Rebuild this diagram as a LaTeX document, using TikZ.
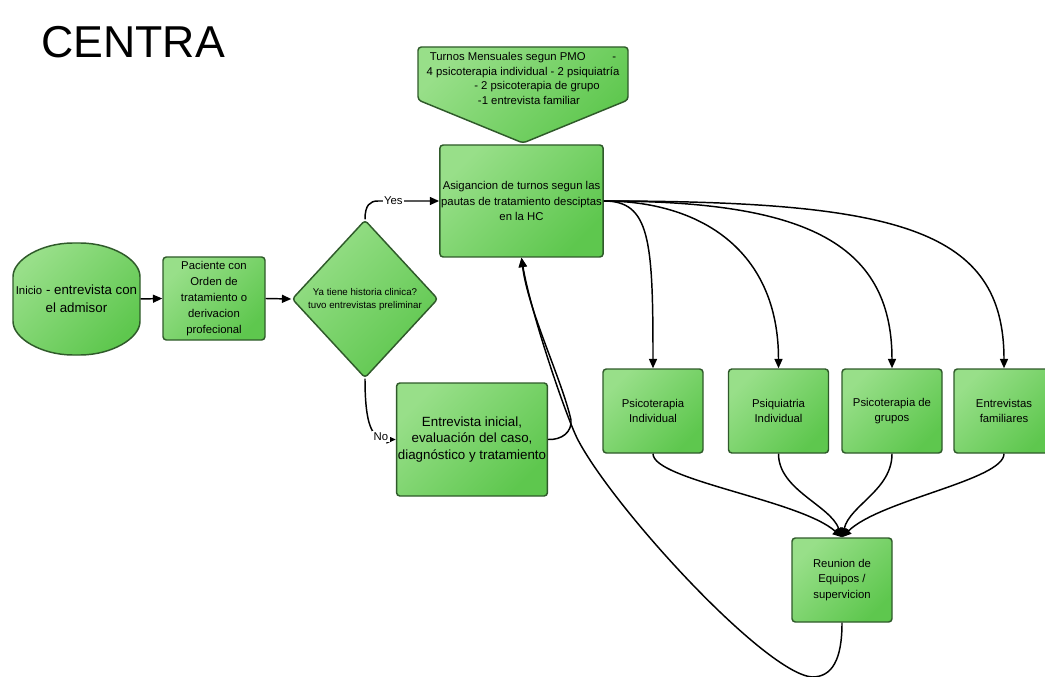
\documentclass[tikz,border=0pt]{standalone}
\usepackage{fontspec}
\setmainfont{Liberation Sans}
\usetikzlibrary{shapes.geometric,arrows.meta}

\definecolor{boxlight}{HTML}{98DF89}
\definecolor{boxdark}{HTML}{5EC74E}
\definecolor{boxline}{HTML}{2F5A2A}

\tikzset{every picture/.style={line width=0.75pt}}
\tikzset{
  box/.style={draw=boxline, line width=1.1, rounded corners=2.5, top color=boxlight, bottom color=boxdark, shading angle=45, align=center, inner sep=1, font=\fontsize{8.5}{11.5}\selectfont},
  flow/.style={line width=1.1, -{Triangle[length=7pt,width=6pt]}},
  lbl/.style={fill=white, inner sep=1, font=\fontsize{8.5}{10}\selectfont},
}

\begin{document}
\begin{tikzpicture}[x=0.75pt,y=0.75pt,yscale=-1,xscale=1]
	\useasboundingbox (0,0) rectangle (1045,677);

	% Title
	\node (title) at (133,42) {\fontsize{33.5}{40}\selectfont CENTRA};

	%Shape: start terminal
	\draw [box] (13,280) .. controls (13,259.6) and (41.4,243) .. (76.5,243) .. controls (111.6,243) and (140,259.6) .. (140,280) -- (140,318) .. controls (140,338.4) and (111.6,355) .. (76.5,355) .. controls (41.4,355) and (13,338.4) .. (13,318) -- cycle ;
	\node (inicio) at (76.5,299) [minimum width=95.25pt, inner sep=0, align=center, font=\fontsize{10}{13.5}\selectfont] {{\fontsize{8.5}{10}\selectfont Inicio} - entrevista con\\el admisor};

	%Shape: monthly turns
	\draw [box] (418,47) -- (628,47) -- (628,100) -- (523,143) -- (418,100) -- cycle ;
	\node (turnos) at (523,78.5) [align=center, font=\fontsize{8.5}{10.9}\selectfont] {Turnos Mensuales segun PMO\hspace{20pt}-\\4 psicoterapia individual - 2 psiquiatría\\\hspace*{21pt}- 2 psicoterapia de grupo\\\hspace*{9pt}-1 entrevista familiar};

	% Boxes
	\node (paciente) at (214,298.5) [box, minimum width=76.5pt, minimum height=62.25pt, font=\fontsize{8.5}{12}\selectfont] {Paciente con\\Orden de\\tratamiento o\\derivacion\\profecional};
	\node (dia) at (365,299) [box, shape=diamond, minimum width=109.5pt, minimum height=118.5pt, inner sep=0, font=\fontsize{7.3}{9.75}\selectfont] {Ya tiene historia clinica?\\tuvo entrevistas preliminar};
	\node (asig) at (521.5,201) [box, minimum width=122.25pt, minimum height=84pt] {Asigancion de turnos segun las\\pautas de tratamiento desciptas\\en la HC};
	\node (entini) at (472,439.5) [box, minimum width=112.5pt, minimum height=84.75pt, font=\fontsize{10}{12.5}\selectfont] {Entrevista inicial,\\evaluación del caso,\\diagnóstico y tratamiento};
	\node (psiind) at (653,411) [box, minimum width=75pt, minimum height=63pt] {Psicoterapia\\Individual};
	\node (psiq) at (778.5,411) [box, minimum width=75pt, minimum height=63pt] {Psiquiatria\\Individual};
	\node (grupos) at (892,411) [box, minimum width=75pt, minimum height=63pt] {Psicoterapia de\\grupos};
	\node (entfam) at (1004,411) [box, minimum width=75pt, minimum height=63pt] {Entrevistas\\familiares};
	\node (reunion) at (842,580) [box, minimum width=75pt, minimum height=63pt] {Reunion de\\Equipos /\\supervicion};

	% Connectors
	\draw [flow] (inicio.east) -- (paciente.west) ;
	\draw [flow] (paciente.east) -- (dia.west) ;
	\draw [flow] (dia.north) .. controls (365,205) and (370,201) .. (378,201) -- node[lbl,pos=0.25] {Yes} (asig.west) ;
	\draw [flow] (dia.south) .. controls (365,425) and (372,439.5) .. node[lbl,pos=0.75] {No} (entini.west) ;
	\draw [flow] (entini.east) .. controls (562,440) and (572,432) .. (571,420) .. controls (562,380) and (528,310) .. (asig.south) ;
	\draw [flow] (reunion.south) .. controls (842,660) and (832,677) .. (812,677) .. controls (765,673) and (615,510) .. (578,440) .. controls (566,417) and (530,310) .. (asig.south) ;

	\draw [flow] (asig.east) .. controls (650,201) and (653,240) .. (psiind.north) ;
	\draw [flow] (asig.east) .. controls (700,201) and (778.5,250) .. (psiq.north) ;
	\draw [flow] (asig.east) .. controls (800,201) and (892,240) .. (grupos.north) ;
	\draw [flow] (asig.east) .. controls (900,201) and (1004,230) .. (entfam.north) ;

	\draw [flow] (psiind.south) .. controls (653,480) and (800,500) .. (reunion.north) ;
	\draw [flow] (psiq.south) .. controls (778.5,490) and (830,505) .. (reunion.north) ;
	\draw [flow] (grupos.south) .. controls (892,490) and (850,505) .. (reunion.north) ;
	\draw [flow] (entfam.south) .. controls (1004,480) and (880,500) .. (reunion.north) ;

\end{tikzpicture}
\end{document}
